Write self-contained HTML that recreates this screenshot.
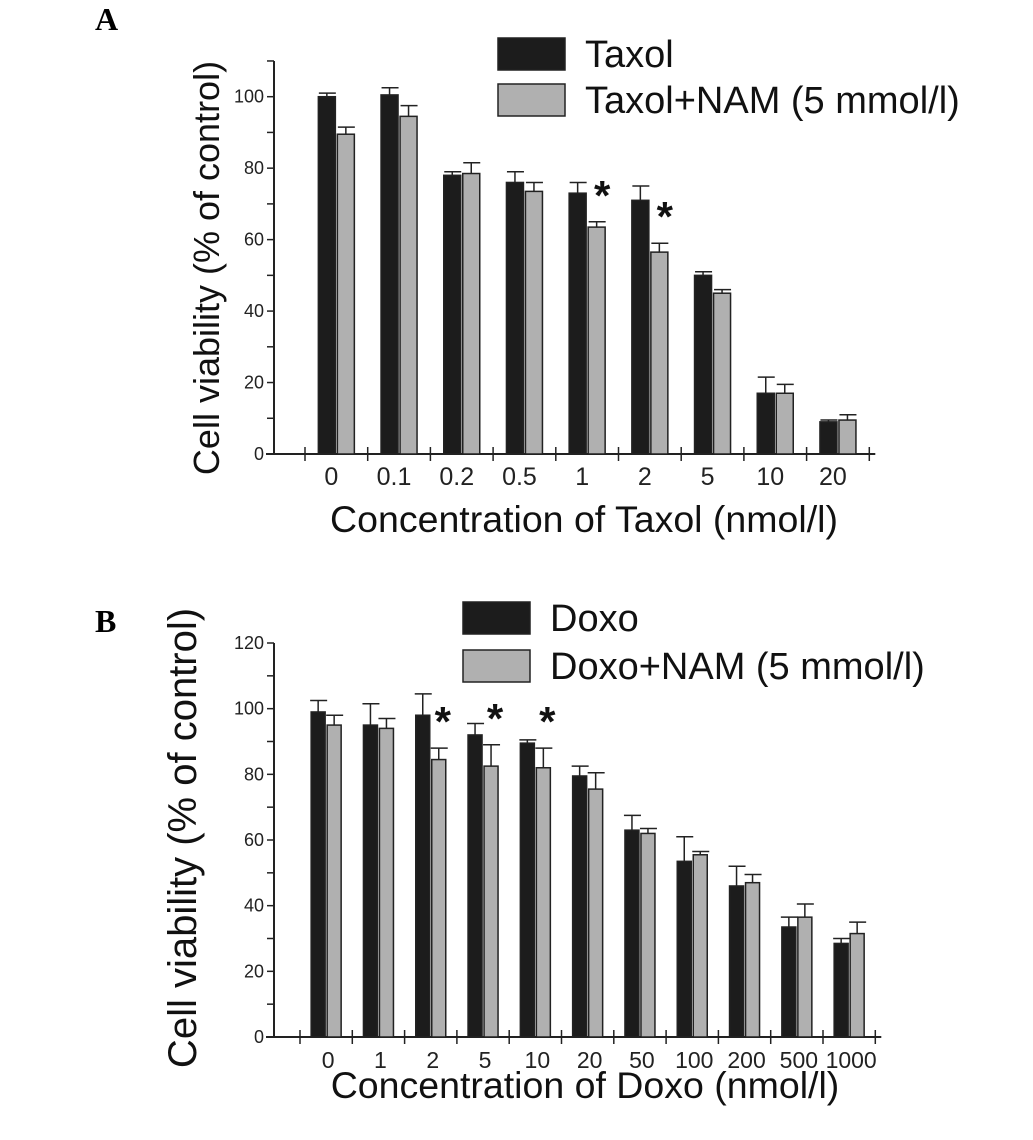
<!DOCTYPE html>
<html><head><meta charset="utf-8"><style>
html,body{margin:0;padding:0;background:#fff;}
svg{display:block;font-family:"Liberation Sans",Arial,sans-serif;}
</style></head><body>
<svg id="fig" width="1033" height="1140" viewBox="0 0 1033 1140">
<text x="95" y="30" font-family="Liberation Serif" font-weight="bold" font-size="32">A</text>
<text x="95" y="632" font-family="Liberation Serif" font-weight="bold" font-size="32">B</text>
<g id="chartA"></g>
<g id="chartB"></g>
</svg>
<script>
const catsA = ["0","0.1","0.2","0.5","1","2","5","10","20"];
const taxol = [100,100.5,78,76,73,71,50,17,9];
const taxolErr = [1,2,1,3,3,4,1,4.5,0.5];
const taxolNam = [89.5,94.5,78.5,73.5,63.5,56.5,45,17,9.5];
const taxolNamErr = [2,3,3,2.5,1.5,2.5,1,2.5,1.5];
const starsA = [4,5];
const yTicksA = [0,20,40,60,80,100];

const catsB = ["0","1","2","5","10","20","50","100","200","500","1000"];
const doxo = [99,95,98,92,89.5,79.5,63,53.5,46,33.5,28.5];
const doxoErr = [3.5,6.5,6.5,3.5,1,3,4.5,7.5,6,3,1.5];
const doxoNam = [95,94,84.5,82.5,82,75.5,62,55.5,47,36.5,31.5];
const doxoNamErr = [3,3,3.5,6.5,6,5,1.5,1,2.5,4,3.5];
const starsB = [2,3,4];
const yTicksB = [0,20,40,60,80,100,120];

const NS="http://www.w3.org/2000/svg";
function mk(parent,tag,attrs,text){const e=document.createElementNS(NS,tag);for(const k in attrs)e.setAttribute(k,attrs[k]);if(text!==undefined)e.textContent=text;parent.appendChild(e);return e;}

function draw(cfg){
  const g=document.getElementById(cfg.id);
  const y=v=>cfg.y0-(v-cfg.ymin)*(cfg.y0-cfg.yTop)/(cfg.ymax-cfg.ymin);
  const n=cfg.cats.length;
  const x=i=>cfg.tick0+(i+0.5)*cfg.step;
  let a=mk(g,'line',{x1:cfg.ax,y1:y(cfg.ymax),x2:cfg.ax,y2:cfg.y0+1,stroke:'#222','stroke-width':2});
  
  a=mk(g,'line',{x1:cfg.ax-8,y1:cfg.y0,x2:cfg.tick0+n*cfg.step+6,y2:cfg.y0,stroke:'#222','stroke-width':2});
  
  for(let v=cfg.ymin;v<=cfg.ymax+0.01;v+=cfg.minor){
    const t=mk(g,'line',{x1:cfg.ax-7,y1:y(v),x2:cfg.ax,y2:y(v),stroke:'#222','stroke-width':1.5});
    
  }
  cfg.yTicks.forEach(v=>{
    const t=mk(g,'text',{x:cfg.ax-10,y:y(v)+6,'text-anchor':'end','font-size':18,fill:'#222'},String(v));
    
  });
  for(let i=0;i<=n;i++){
    const t=mk(g,'line',{x1:cfg.tick0+i*cfg.step,y1:cfg.y0-7,x2:cfg.tick0+i*cfg.step,y2:cfg.y0+7,stroke:'#222','stroke-width':1.5});
    
  }
  cfg.cats.forEach((c,i)=>{
    const t=mk(g,'text',{x:x(i)+cfg.labDx,y:cfg.y0+31,'text-anchor':'middle','font-size':cfg.labF,fill:'#222'},c);
    
    [[cfg.s1,cfg.e1,'#1c1c1c',-cfg.bw-1],[cfg.s2,cfg.e2,'#b0b0b0',1]].forEach(([s,e,col,off],k)=>{
      const bx=x(i)+off;
      const r=mk(g,'rect',{x:bx,y:y(s[i]),width:cfg.bw,height:cfg.y0-y(s[i]),fill:col,stroke:'#222','stroke-width':1.5});
      
      const cx=bx+cfg.bw/2;
      const el=mk(g,'path',{d:`M${cx},${y(s[i])} V${y(s[i]+e[i])} M${cx-8},${y(s[i]+e[i])} H${cx+9}`,stroke:'#222','stroke-width':1.5,fill:'none'});
      
    });
  });
  cfg.stars.forEach(i=>{
    const st=mk(g,'text',{x:x(i)+cfg.bw-2,y:y(cfg.s2[i]+cfg.e2[i])-12,'text-anchor':'middle','font-size':42,'font-weight':'bold',fill:'#111'},'*');
    
  });
  const yt=mk(g,'text',{x:0,y:0,transform:`translate(${cfg.ytx},${cfg.yty}) rotate(-90)`,'text-anchor':'middle','font-size':cfg.ytf,fill:'#111'},'Cell viability (% of control)');
  
  const xt=mk(g,'text',{x:cfg.xtx,y:cfg.xty,'text-anchor':'middle','font-size':37.5,fill:'#111'},cfg.xtitle);
  
  [[cfg.l1,'#1c1c1c',0],[cfg.l2,'#b0b0b0',1]].forEach(([lab,col,k])=>{
    const ly=cfg.ly+k*cfg.lgap;
    const r=mk(g,'rect',{x:cfg.lx,y:ly,width:67,height:32,fill:col,stroke:'#222','stroke-width':1.5});
    
    const t=mk(g,'text',{x:cfg.lx+87,y:ly+29,'font-size':38,fill:'#111'},lab);
    
  });
}
draw({id:'chartA',cats:catsA,s1:taxol,e1:taxolErr,s2:taxolNam,e2:taxolNamErr,stars:starsA,yTicks:yTicksA,
  ymin:0,ymax:110,minor:10,y0:454,yTop:454-110*3.573,ax:274,tick0:305,step:62.7,bw:17,labDx:-5,labF:25,
  ytx:219,yty:268,ytf:36,xtx:584,xty:532,xtitle:'Concentration of Taxol (nmol/l)',
  lx:498,ly:38,lgap:46,l1:'Taxol',l2:'Taxol+NAM (5 mmol/l)'});
draw({id:'chartB',cats:catsB,s1:doxo,e1:doxoErr,s2:doxoNam,e2:doxoNamErr,stars:starsB,yTicks:yTicksB,
  ymin:0,ymax:120,minor:10,y0:1037,yTop:643,ax:274,tick0:300,step:52.3,bw:14,labDx:2,labF:23,
  ytx:196,yty:838,ytf:40,xtx:585,xty:1098,xtitle:'Concentration of Doxo (nmol/l)',
  lx:463,ly:602,lgap:48,l1:'Doxo',l2:'Doxo+NAM (5 mmol/l)'});
</script>
</body></html>
